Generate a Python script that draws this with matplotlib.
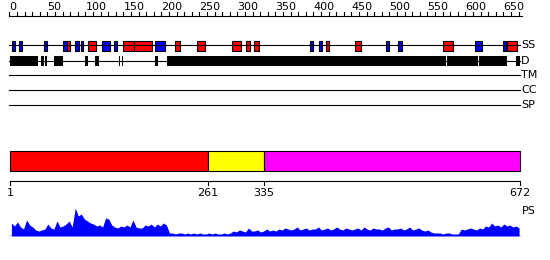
import matplotlib
matplotlib.use("Agg")
import matplotlib.pyplot as plt
from matplotlib.patches import Rectangle

seq_len = 672

# secondary structure (start, end) in residues
helices = [(76, 79), (103, 114), (150, 164), (164, 188), (218, 224), (247, 257),
           (293, 304), (311, 317), (322, 328), (417, 421), (455, 463),
           (571, 583), (654, 668)]
strands = [(3, 7), (12, 17), (45, 50), (70, 76), (86, 92), (94, 97), (122, 132),
           (137, 142), (192, 205), (396, 400), (407, 411), (495, 500),
           (511, 516), (612, 622), (650, 653)]

# disorder regions
disorder = [(1, 38), (42, 45), (47, 50), (59, 70), (99, 103), (112, 118),
            (144, 146), (148, 150), (192, 195), (207, 574), (576, 616),
            (618, 655), (666, 672)]

# domain architecture
domain_bounds = [1, 261, 335, 672]
domain_colors = ["#ff0000", "#ffff00", "#ff00ff"]

track_names = ["SS", "D", "TM", "CC", "SP"]

# PS profile, one value per 4 residues
ps_values = [13, 10, 14, 9, 7, 16, 11, 9, 6, 5, 6, 7, 12, 8, 7, 15,
             9, 10, 12, 15, 9, 28, 20, 22, 17, 15, 13, 12, 10, 11, 9, 18,
             17, 11, 9, 8, 10, 9, 11, 9, 16, 9, 8, 8, 11, 10, 12, 9,
             12, 10, 13, 11, 3, 3, 2, 3, 3, 2, 3, 2, 3, 2, 3, 2,
             2, 3, 2, 3, 2, 2, 3, 2, 3, 5, 4, 6, 5, 4, 8, 5,
             5, 6, 4, 5, 7, 5, 6, 5, 7, 6, 8, 7, 6, 7, 9, 6,
             7, 8, 6, 7, 7, 9, 6, 7, 8, 6, 7, 9, 7, 6, 8, 7,
             6, 7, 8, 6, 9, 7, 6, 8, 7, 7, 6, 8, 9, 6, 7, 7,
             8, 6, 7, 9, 6, 7, 8, 6, 5, 6, 4, 3, 3, 3, 2, 3,
             3, 2, 2, 2, 7, 6, 7, 8, 7, 6, 8, 7, 10, 9, 13, 10,
             11, 9, 12, 10, 11, 9, 10, 8]
ps_pos = [4 * i + 2.5 for i in range(len(ps_values))]

fig = plt.figure(figsize=(5.5, 2.6), dpi=100)
ax = fig.add_axes([0, 0, 1, 1])
ax.set_xlim(-12.5, 711.2)
ax.set_ylim(260, 0)
ax.axis("off")
lw = 0.8

# top ruler
ax.plot([0, 674], [16, 16], color="black", lw=lw)
for t in range(0, seq_len + 1, 10):
    ax.plot([t, t], [16, 12], color="black", lw=lw)
    if t % 50 == 0:
        ax.text(t, 11.5, str(t), ha="left", va="bottom", fontsize=8)

# feature tracks
track_y = [45, 60.5, 75, 90, 105]
for name, y in zip(track_names, track_y):
    ax.plot([0, seq_len], [y, y], color="black", lw=lw)
    ax.text(seq_len + 1, y, name, ha="left", va="center", fontsize=8)

for s, e in strands:
    ax.add_patch(Rectangle((s, 40.5), e - s, 10, facecolor="#0000ff",
                           edgecolor="black", lw=lw))
for s, e in helices:
    ax.add_patch(Rectangle((s, 40.5), e - s, 10, facecolor="#ff0000",
                           edgecolor="black", lw=lw))
for s, e in disorder:
    ax.add_patch(Rectangle((s, 55.5), e - s, 10, facecolor="black",
                           edgecolor="none"))

# domain bar
for i, c in enumerate(domain_colors):
    s, e = domain_bounds[i], domain_bounds[i + 1]
    ax.add_patch(Rectangle((s, 150.5), e - s, 20, facecolor=c,
                           edgecolor="black", lw=lw))
ax.plot([domain_bounds[0], domain_bounds[-1]], [180.5, 180.5], color="black", lw=lw)
for b in domain_bounds:
    ax.plot([b, b], [180.5, 185], color="black", lw=lw)
    ax.text(b, 188, str(b), ha="center", va="top", fontsize=8)

ax.text(seq_len + 2, 211, "PS", ha="left", va="center", fontsize=8)

# PS profile
ax2 = fig.add_axes([0, 24 / 260, 1, 31 / 260])
ax2.set_xlim(-12.5, 711.2)
ax2.set_ylim(0, 31)
ax2.axis("off")
ax2.fill_between(ps_pos, 0, ps_values, color="#0000ff", lw=0)
ax2.plot([0, seq_len], [0.5, 0.5], color="#0000ff", lw=1)

fig.savefig("out.png", dpi=100)
